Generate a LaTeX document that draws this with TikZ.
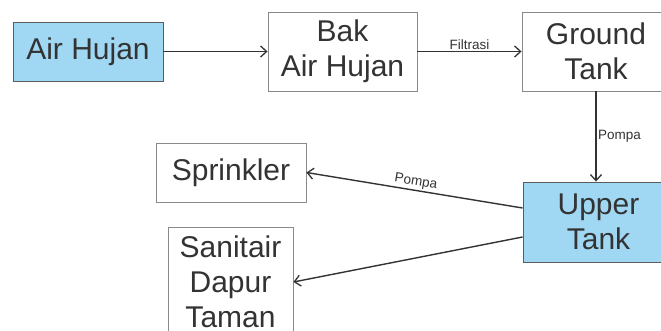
\documentclass[tikz,border=0pt]{standalone}
\usepackage{fontspec}
\setmainfont{Liberation Sans}
\usetikzlibrary{arrows.meta}
\definecolor{ink}{HTML}{333333}
\definecolor{waterblue}{HTML}{A0D8F4}
\definecolor{boxline}{HTML}{8A8A8A}
\begin{document}
\begin{tikzpicture}[x=1pt,y=-1pt,
  every node/.style={text=ink},
  plainbox/.style={draw=boxline, line width=0.9pt, fill=white, align=center,
    font=\fontsize{30}{35}\selectfont, inner sep=0pt},
  bluebox/.style={plainbox, draw=ink!80, fill=waterblue},
  flow/.style={draw=ink, line width=1.4pt, -{Straight Barb[length=6pt,width=11pt,line width=1.3pt]}},
  tag/.style={font=\fontsize{13.5}{15}\selectfont, inner sep=1.5pt}]
\useasboundingbox (0,0) rectangle (661,331);
\begin{scope}
\clip (0,0) rectangle (661,331);
% source and storage chain
\node[bluebox, minimum width=150pt, minimum height=59pt] (hujan) at (88,51.5) {Air Hujan};
\node[plainbox, minimum width=149pt, minimum height=79pt] (bak) at (342.5,51.5) {Bak\\Air Hujan};
\node[plainbox, minimum width=148pt, minimum height=79pt] (ground) at (596,51.5) {Ground\\Tank};
\node[bluebox, minimum width=151pt, minimum height=80pt] (upper) at (598.5,222) {Upper\\Tank};
% consumers
\node[plainbox, minimum width=150pt, minimum height=59pt] (sprinkler) at (231,172.5) {Sprinkler};
\node[plainbox, minimum width=125pt, minimum height=110pt] (sanitair) at (230.5,282) {Sanitair\\Dapur\\Taman};
% connectors
\draw[flow] (hujan) -- (bak);
\draw[flow] (bak) -- node[tag, above] {Filtrasi} (ground);
\draw[flow] (ground.south) -- node[tag, right] {Pompa} (ground.south |- upper.north);
\draw[flow] ([yshift=14pt]upper.west) -- node[tag, above, sloped] {Pompa} (sprinkler.east);
\draw[flow] ([yshift=-15pt]upper.west) -- (sanitair.east);
\end{scope}
\end{tikzpicture}
\end{document}
